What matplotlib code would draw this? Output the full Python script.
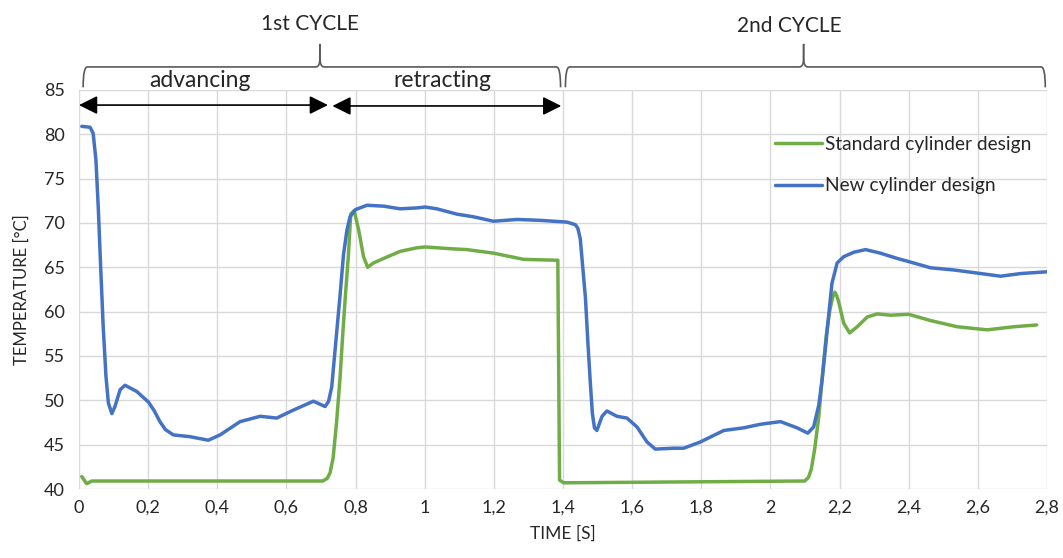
import matplotlib
matplotlib.use("Agg")
import matplotlib.pyplot as plt
from matplotlib.path import Path
from matplotlib.patches import PathPatch

plt.rcParams['font.family'] = ['Lato', 'DejaVu Sans']

# ---------------- data ----------------
new_t = [0.008, 0.032, 0.041, 0.049, 0.056, 0.063, 0.070, 0.078, 0.085, 0.095, 0.104,
         0.119, 0.133, 0.167, 0.201, 0.218, 0.234, 0.250, 0.273, 0.321, 0.374, 0.408,
         0.466, 0.524, 0.572, 0.620, 0.678, 0.712, 0.722, 0.731, 0.738, 0.745, 0.755,
         0.765, 0.775, 0.784, 0.799, 0.833, 0.881, 0.929, 0.977, 1.001, 1.035, 1.093,
         1.141, 1.199, 1.267, 1.334, 1.412, 1.436, 1.443, 1.450, 1.465, 1.472, 1.479,
         1.485, 1.491, 1.498, 1.513, 1.527, 1.556, 1.585, 1.614, 1.643, 1.667, 1.720,
         1.749, 1.797, 1.865, 1.923, 1.971, 2.029, 2.077, 2.108, 2.125, 2.140, 2.150,
         2.159, 2.169, 2.178, 2.193, 2.212, 2.241, 2.275, 2.318, 2.367, 2.400, 2.463,
         2.531, 2.589, 2.666, 2.724, 2.801]
new_T = [80.9, 80.8, 80.1, 77.1, 71.5, 64.7, 58.3, 52.7, 49.7, 48.5, 49.3,
         51.2, 51.7, 51.0, 49.8, 48.8, 47.6, 46.7, 46.1, 45.9, 45.5, 46.1,
         47.6, 48.2, 48.0, 48.9, 49.9, 49.3, 49.9, 51.5, 54.5, 57.5, 61.8,
         66.4, 69.2, 70.7, 71.5, 72.0, 71.9, 71.6, 71.7, 71.8, 71.6, 71.0,
         70.7, 70.2, 70.4, 70.3, 70.1, 69.8, 69.4, 68.2, 61.5, 56.5, 52.0,
         48.5, 46.9, 46.6, 48.2, 48.8, 48.2, 48.0, 47.0, 45.3, 44.5, 44.6,
         44.6, 45.3, 46.6, 46.9, 47.3, 47.6, 46.9, 46.3, 47.0, 49.5, 52.5,
         55.9, 59.8, 63.2, 65.5, 66.2, 66.7, 67.0, 66.6, 66.0, 65.65, 64.95,
         64.7, 64.4, 64.0, 64.3, 64.5]

std_t = [0.008, 0.022, 0.037, 0.705, 0.718, 0.726, 0.735, 0.745, 0.755, 0.763,
         0.770, 0.779, 0.786, 0.796, 0.809, 0.823, 0.835, 0.852, 0.881, 0.929,
         0.977, 1.001, 1.074, 1.122, 1.199, 1.286, 1.380, 1.385, 1.390, 1.402,
         2.099, 2.110, 2.118, 2.128, 2.140, 2.152, 2.162, 2.172, 2.180, 2.186,
         2.192, 2.198, 2.212, 2.229, 2.251, 2.280, 2.309, 2.347, 2.400, 2.463,
         2.540, 2.627, 2.704, 2.770]
std_T = [41.4, 40.6, 40.9, 40.9, 41.2, 41.8, 43.5, 47.5, 52.5, 57.5,
         61.5, 66.2, 71.0, 71.4, 69.2, 66.2, 65.0, 65.5, 66.0, 66.8,
         67.2, 67.3, 67.1, 67.0, 66.6, 65.9, 65.8, 65.8, 41.0, 40.7,
         40.9, 41.3, 42.2, 44.5, 48.2, 53.5, 57.5, 60.2, 61.6, 62.2,
         61.8, 61.0, 58.7, 57.6, 58.3, 59.4, 59.75, 59.6, 59.7, 59.0,
         58.3, 57.95, 58.3, 58.5]

x_ticks = [0, 0.2, 0.4, 0.6, 0.8, 1.0, 1.2, 1.4, 1.6, 1.8, 2.0, 2.2, 2.4, 2.6, 2.8]
x_labels = ["0", "0,2", "0,4", "0,6", "0,8", "1", "1,2", "1,4", "1,6", "1,8", "2",
            "2,2", "2,4", "2,6", "2,8"]
y_ticks = [40, 45, 50, 55, 60, 65, 70, 75, 80, 85]

series_names = ["Standard cylinder design", "New cylinder design"]
cycle_labels = ["1st CYCLE", "2nd CYCLE"]
phase_labels = ["advancing", "retracting"]

GREEN = "#70AD47"
BLUE = "#4472C4"
GRID = "#D9D9D9"
TXT = "#262626"

fig = plt.figure(figsize=(10.63, 5.58), dpi=100)
ax = fig.add_axes([79 / 1063, 1 - 489 / 558, (1047 - 79) / 1063, (489 - 90) / 558])

ax.plot(std_t, std_T, color=GREEN, lw=2.5, label=series_names[0],
        solid_capstyle='round', solid_joinstyle='round')
ax.plot(new_t, new_T, color=BLUE, lw=2.5, label=series_names[1],
        solid_capstyle='round', solid_joinstyle='round')

ax.set_xlim(0, 2.8)
ax.set_ylim(40, 85)
ax.set_xticks(x_ticks)
ax.set_xticklabels(x_labels)
ax.set_yticks(y_ticks)
ax.tick_params(axis='both', length=0, labelsize=13, colors=TXT, pad=8)
ax.tick_params(axis='y', pad=10)
for s in ax.spines.values():
    s.set_visible(False)
ax.grid(True, color=GRID, lw=1.0)
ax.set_axisbelow(True)

ax.set_xlabel("TIME [S]", fontsize=12.5, color=TXT, labelpad=7)
ax.set_ylabel("TEMPERATURE [°C]", fontsize=12, color=TXT, labelpad=10)

leg = ax.legend(loc='upper left', bbox_to_anchor=(0.711, 0.905), frameon=False,
                fontsize=13.8, handlelength=2.45, handletextpad=0.15, labelspacing=1.3,
                borderaxespad=0)
for t in leg.get_texts():
    t.set_color(TXT)


# ---------- braces above the plot ----------
def brace(x0, x1, xm, y_end, y_line, y_tip, dx=0.012, dy=1.0):
    codes = [Path.MOVETO, Path.CURVE3, Path.CURVE3, Path.LINETO,
             Path.CURVE3, Path.CURVE3, Path.LINETO]
    for xe, sgn in ((x0, 1), (x1, -1)):
        v = [(xe, y_end), (xe, y_line), (xe + sgn * dx, y_line),
             (xm - sgn * dx, y_line), (xm, y_line), (xm, y_line + dy), (xm, y_tip)]
        ax.add_patch(PathPatch(Path(v, codes), fill=False, edgecolor="#595959",
                               lw=1.2, clip_on=False))


brace(0.012, 1.393, 0.697, 85.3, 87.6, 90.2)
brace(1.407, 2.795, 2.096, 85.3, 87.6, 90.2)

ax.text(0.668, 92.4, cycle_labels[0], ha='center', va='center', fontsize=15, color=TXT)
ax.text(2.055, 92.2, cycle_labels[1], ha='center', va='center', fontsize=15, color=TXT)
ax.text(0.35, 86.1, phase_labels[0], ha='center', va='center', fontsize=16.5, color=TXT)
ax.text(1.052, 86.1, phase_labels[1], ha='center', va='center', fontsize=16.5, color=TXT)

arrow_kw = dict(arrowstyle='<|-|>,head_length=0.7,head_width=0.35', color='black',
                lw=1.2, mutation_scale=16, shrinkA=0, shrinkB=0)
ax.annotate("", xy=(0.72, 83.3), xytext=(0.0, 83.3), arrowprops=arrow_kw,
            annotation_clip=False)
ax.annotate("", xy=(1.395, 83.2), xytext=(0.733, 83.2), arrowprops=arrow_kw,
            annotation_clip=False)

fig.savefig("out.png", dpi=100)
